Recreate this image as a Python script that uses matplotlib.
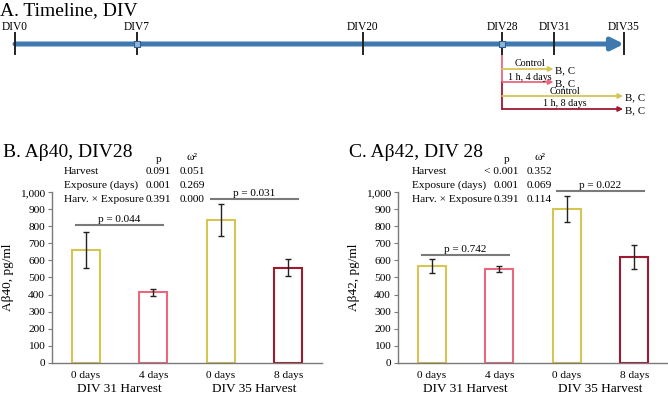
import numpy as np
import matplotlib
matplotlib.use('Agg')
import matplotlib.pyplot as plt
from matplotlib.ticker import FuncFormatter

plt.rcParams['font.family'] = ['Liberation Serif', 'DejaVu Serif']

# timeline data
div_days = [0, 7, 20, 28, 31, 35]
div_labels = ['DIV0', 'DIV7', 'DIV20', 'DIV28', 'DIV31', 'DIV35']
marked_days = [7, 28]
treat_day = 28
branch_labels = ['Control', '1 h, 4 days', 'Control', '1 h, 8 days']
branch_ends = [31, 31, 35, 35]

# bar data
bar_labels = ['0 days', '4 days', '0 days', '8 days']
group_labels = ['DIV 31 Harvest', 'DIV 35 Harvest']
ab40_mean = [660, 413, 838, 557]
ab40_err = [105, 21, 95, 51]
ab42_mean = [567, 550, 900, 618]
ab42_err = [40, 17, 76, 70]

stat_rows = ['Harvest', 'Exposure (days)', 'Harv. × Exposure']
ab40_p = ['0.091', '0.001', '0.391']
ab40_w = ['0.051', '0.269', '0.000']
ab42_p = ['< 0.001', '0.001', '0.391']
ab42_w = ['0.352', '0.069', '0.114']

ab40_sig = [(0, 1, 'p = 0.044', 808), (2, 3, 'p = 0.031', 963)]
ab42_sig = [(0, 1, 'p = 0.742', 632), (2, 3, 'p = 0.022', 1008)]

YELLOW = '#d5c553'
PINK = '#e9687f'
DARKRED = '#9e1a30'
BLUE = '#3f79b0'
GRAY = '#7a7a7a'
bar_colors = [YELLOW, PINK, YELLOW, DARKRED]
branch_colors = [YELLOW, PINK, YELLOW, DARKRED]

W, H = 668, 394
fig = plt.figure(figsize=(W / 100, H / 100), dpi=100)


def fx(x):
    return x / W


def fy(y):
    return 1 - y / H


# ---- A. timeline ----
ax_t = fig.add_axes([0, 0.6, 1, 0.4])
ax_t.set_xlim(-15 / 17.4, (W - 15) / 17.4)
ax_t.set_ylim(H * 0.4, 0)
ax_t.axis('off')

line_y = 44
ax_t.annotate('', xy=(35, line_y), xytext=(0, line_y),
              arrowprops=dict(arrowstyle='-|>', lw=3.6, color=BLUE,
                              mutation_scale=18, shrinkA=0, shrinkB=0))
for d, lab in zip(div_days, div_labels):
    ax_t.plot([d, d], [33, 54], color='#222222', lw=1.4, zorder=4)
    ax_t.text(d, 27.5, lab, ha='center', va='center', fontsize=8.3)
ax_t.scatter(marked_days, [line_y] * len(marked_days), marker='s', s=22,
             facecolor='#8fb4d8', edgecolor='#2d5f90', lw=0.8, zorder=5)

branch_y = [69, 82, 96, 109]
ax_t.plot([treat_day, treat_day], [line_y, branch_y[1]], color=PINK, lw=1.3, zorder=3)
ax_t.plot([treat_day, treat_day], [branch_y[1], branch_y[3]], color=DARKRED, lw=1.3, zorder=3)
for lab, end, c, by in zip(branch_labels, branch_ends, branch_colors, branch_y):
    ax_t.annotate('', xy=(end - 0.05, by), xytext=(treat_day, by),
                  arrowprops=dict(arrowstyle='-|>', lw=1.3, color=c,
                                  mutation_scale=7, shrinkA=0, shrinkB=0))
    ax_t.text(end + 0.05, by + 1.5, 'B, C', ha='left', va='center', fontsize=7.8)
    ax_t.text((treat_day + end) / 2 + 0.1, by - 0.5, lab, ha='center', va='bottom', fontsize=7.2)

fig.text(fx(0), fy(11), 'A. Timeline, DIV', ha='left', va='center', fontsize=14)


# ---- B and C bar panels ----
def bar_panel(left, title, ylabel, means, errs, sigs, p_vals, w_vals,
              name_x, p_right, w_right, p_head, w_head):
    ax = fig.add_axes([fx(left), fy(362.7), 270 / W, 170.4 / H])
    x = np.arange(len(means))
    ax.bar(x, means, width=0.41, color='white', edgecolor=bar_colors, lw=1.5, zorder=2)
    ax.errorbar(x, means, yerr=errs, fmt='none', ecolor='#222222', elinewidth=1,
                capsize=2.5, capthick=1, zorder=3)
    ax.set_xlim(-0.5, 3.5)
    ax.set_ylim(0, 1000)
    ax.set_yticks(np.arange(0, 1001, 100))
    ax.yaxis.set_major_formatter(FuncFormatter(lambda v, p: f'{int(v):,}'))
    ax.set_xticks(x)
    ax.set_xticklabels(bar_labels, fontsize=8.2)
    ax.tick_params(axis='x', length=0, pad=6)
    ax.tick_params(axis='y', length=3, width=0.8, color=GRAY, labelsize=8.2, pad=2)
    for s in ['top', 'right']:
        ax.spines[s].set_visible(False)
    for s in ['left', 'bottom']:
        ax.spines[s].set_color(GRAY)
        ax.spines[s].set_linewidth(1)
    ax.set_ylabel(ylabel, fontsize=9.5, labelpad=4)
    for i, g in enumerate(group_labels):
        ax.text(2 * i + 0.5, -0.152, g, transform=ax.get_xaxis_transform(),
                ha='center', va='center', fontsize=9.5)
    for a, b, lab, y in sigs:
        ax.plot([a - 0.15, b + 0.15], [y, y], color=GRAY, lw=1.5, clip_on=False)
        ax.text((a + b) / 2, y + 4, lab, ha='center', va='bottom', fontsize=8, clip_on=False)

    fig.text(fx(left - 49), fy(152), title, ha='left', va='center', fontsize=14)
    fig.text(fx(p_head), fy(160), 'p', ha='center', va='center', fontsize=8.2)
    fig.text(fx(w_head), fy(158), 'ω²', ha='center', va='center', fontsize=8.2)
    for i, row in enumerate(stat_rows):
        yy = 171.5 + i * 14
        fig.text(fx(name_x), fy(yy), row, ha='left', va='center', fontsize=8.2)
        fig.text(fx(p_right), fy(yy), p_vals[i], ha='right', va='center', fontsize=8.2)
        fig.text(fx(w_right), fy(yy), w_vals[i], ha='right', va='center', fontsize=8.2)
    return ax


bar_panel(52, 'B. Aβ40, DIV28', 'Aβ40, pg/ml', ab40_mean, ab40_err, ab40_sig,
          ab40_p, ab40_w, 64, 171, 205, 159, 192)
bar_panel(398, 'C. Aβ42, DIV 28', 'Aβ42, pg/ml', ab42_mean, ab42_err, ab42_sig,
          ab42_p, ab42_w, 412, 519, 552, 507, 540)

fig.savefig('out.png', dpi=100)
